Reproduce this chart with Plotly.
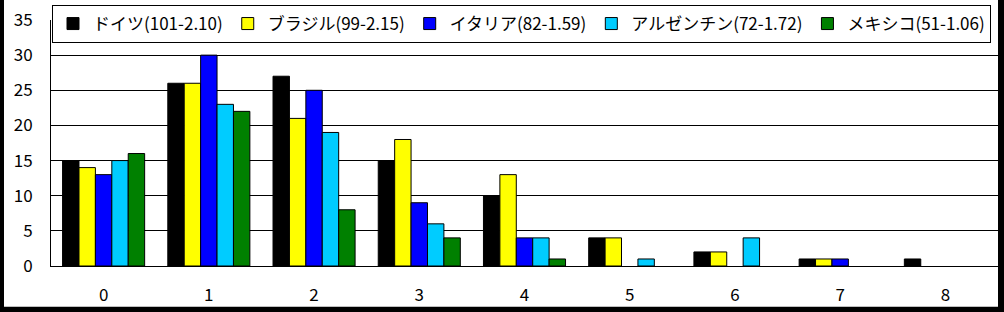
import plotly.graph_objects as go

goals = ["0", "1", "2", "3", "4", "5", "6", "7", "8"]
names = ["ドイツ(101-2.10)", "ブラジル(99-2.15)", "イタリア(82-1.59)", "アルゼンチン(72-1.72)", "メキシコ(51-1.06)"]
germany = [15, 26, 27, 15, 10, 4, 2, 1, 1]
brazil = [14, 26, 21, 18, 13, 4, 2, 1, 0]
italy = [13, 30, 25, 9, 4, 0, 0, 1, 0]
argentina = [15, 23, 19, 6, 4, 1, 4, 0, 0]
mexico = [16, 22, 8, 4, 1, 0, 0, 0, 0]
colors = ["#000000", "#FFFF00", "#0000FF", "#00CCFF", "#008000"]

W, H = 1004, 312
L, R, T, B = 51, 6, 19, 46
pw, ph = W - L - R, H - T - B

def px(x):
    return (x - L) / pw

def py(y):
    return (H - B - y) / ph

FONT = "Noto Sans CJK JP"
fig = go.Figure()
for name, vals, c in zip(names, [germany, brazil, italy, argentina, mexico], colors):
    fig.add_trace(go.Bar(x=goals, y=[v if v else None for v in vals], name=name,
                         marker=dict(color=c, line=dict(color="black", width=1))))

fig.update_layout(
    width=W, height=H,
    margin=dict(l=L, r=R, t=T, b=B, pad=0),
    paper_bgcolor="black", plot_bgcolor="white",
    barmode="group", bargap=0.22, bargroupgap=0,
    font=dict(family=FONT, size=17, color="black"),
    showlegend=True,
    legend=dict(orientation="h", x=px(52), y=py(5), xanchor="left", yanchor="top",
                bgcolor="white", bordercolor="black", borderwidth=1,
                font=dict(family=FONT, size=17), itemwidth=30, tracegroupgap=0),
    xaxis=dict(type="category", range=[-0.5, 8.5], showgrid=False, showline=True,
               linecolor="black", linewidth=1, ticks="", ticklabelstandoff=14,
               tickfont=dict(size=17)),
    yaxis=dict(range=[0, 35], dtick=5, showgrid=True, gridcolor="black", gridwidth=1,
               showline=True, linecolor="black", linewidth=1, zeroline=False, ticks="",
               ticklabelstandoff=14, tickfont=dict(size=17)),
    shapes=[dict(type="rect", xref="paper", yref="paper", layer="below",
                 x0=px(4), x1=px(998), y0=py(307), y1=py(-2),
                 fillcolor="white", line=dict(width=0))],
)
fig.write_html("out.html")
